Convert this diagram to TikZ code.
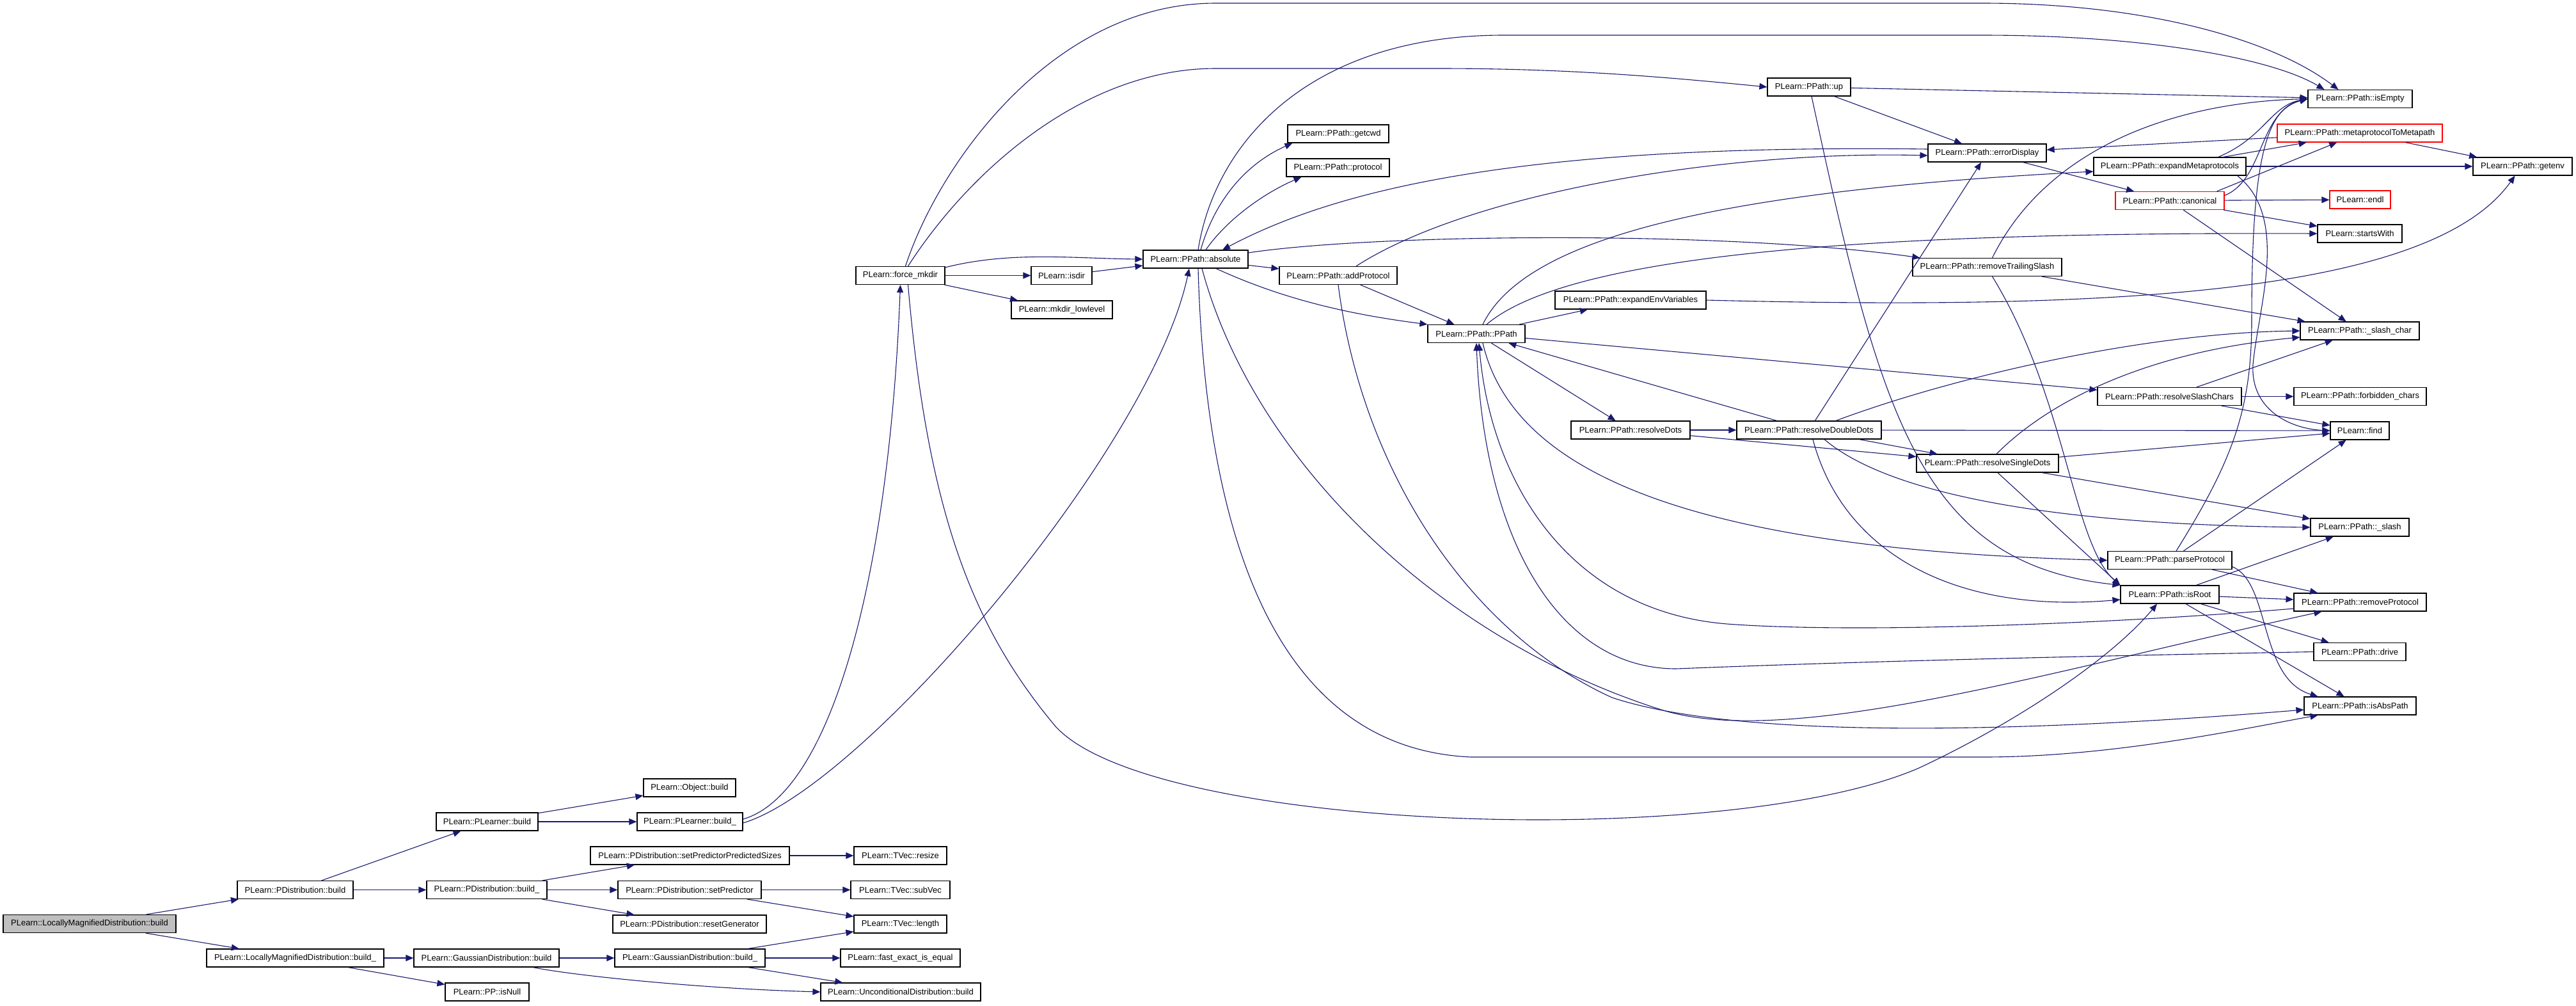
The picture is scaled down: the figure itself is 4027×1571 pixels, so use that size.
\documentclass[tikz,border=0pt]{standalone}
\usepackage{fontspec}
\setmainfont{Liberation Sans}
\usetikzlibrary{arrows.meta}
\definecolor{callblue}{RGB}{25,25,112}
\definecolor{rootgray}{RGB}{191,191,191}
\tikzset{
  fn/.style={draw=black, line width=0.6pt, fill=white, minimum height=14pt, inner sep=0pt,
    font=\fontsize{6.5}{7.8}\selectfont},
  fnred/.style={fn, draw=red},
  call/.style={draw=callblue, line width=0.55pt, -{Triangle[length=6pt,width=5pt]}},
}
\begin{document}
\begin{tikzpicture}[x=0.5pt,y=-0.5pt]
\useasboundingbox (0,0) rectangle (4027,1571);
% build part
\node[fn, fill=rootgray, minimum width=135pt] (lmdbuild) at (140,1443.5) {PLearn::LocallyMagnifiedDistribution::build};
\node[fn, minimum width=90.5pt] (pdbuild) at (461.5,1390.5) {PLearn::PDistribution::build};
\node[fn, minimum width=138.5pt] (lmdbuildu) at (461.5,1497) {PLearn::LocallyMagnifiedDistribution::build\_};
\node[fn, minimum width=79.5pt] (plbuild) at (761.5,1284) {PLearn::PLearner::build};
\node[fn, minimum width=94pt] (pdbuildu) at (761,1390.5) {PLearn::PDistribution::build\_};
\node[fn, minimum width=113.5pt] (gdbuild) at (760.5,1497) {PLearn::GaussianDistribution::build};
\node[fn, minimum width=65.5pt] (isnull) at (761.5,1550) {PLearn::PP::isNull};
\node[fn, minimum width=72pt] (objbuild) at (1078,1231) {PLearn::Object::build};
\node[fn, minimum width=82.5pt] (plbuildu) at (1078.5,1284) {PLearn::PLearner::build\_};
\node[fn, minimum width=155.5pt] (setpps) at (1078.5,1337) {PLearn::PDistribution::setPredictorPredictedSizes};
\node[fn, minimum width=112pt] (setpred) at (1078,1390.5) {PLearn::PDistribution::setPredictor};
\node[fn, minimum width=120pt] (resetgen) at (1078,1444) {PLearn::PDistribution::resetGenerator};
\node[fn, minimum width=117.5pt] (gdbuildu) at (1078.5,1497) {PLearn::GaussianDistribution::build\_};
\node[fn, minimum width=72.5pt] (resize) at (1407.5,1337) {PLearn::TVec::resize};
\node[fn, minimum width=77.5pt] (subvec) at (1407.5,1390.5) {PLearn::TVec::subVec};
\node[fn, minimum width=72.5pt] (length) at (1407.5,1444) {PLearn::TVec::length};
\node[fn, minimum width=93.5pt] (fasteq) at (1407.5,1497) {PLearn::fast\_exact\_is\_equal};
\node[fn, minimum width=125pt] (uncbuild) at (1408,1550) {PLearn::UnconditionalDistribution::build};
% path part
\node[fn, minimum width=69.5pt] (fmkdir) at (1407.5,430.5) {PLearn::force\_mkdir};
\node[fn, minimum width=47.5pt] (isdir) at (1659.5,430.5) {PLearn::isdir};
\node[fn, minimum width=79pt] (mkdirlow) at (1660,484) {PLearn::mkdir\_lowlevel};
\node[fn, minimum width=82pt] (absolute) at (1869,405) {PLearn::PPath::absolute};
\node[fn, minimum width=79pt] (getcwd) at (2092,209) {PLearn::PPath::getcwd};
\node[fn, minimum width=80.5pt] (protocol) at (2091.5,262) {PLearn::PPath::protocol};
\node[fn, minimum width=92pt] (addproto) at (2092,430.5) {PLearn::PPath::addProtocol};
\node[fn, minimum width=76pt] (ppath) at (2308,521.5) {PLearn::PPath::PPath};
\node[fn, minimum width=65pt] (up) at (2828,136) {PLearn::PPath::up};
\node[fn, minimum width=92.5pt] (errdisp) at (3106.5,239) {PLearn::PPath::errorDisplay};
\node[fn, minimum width=81.5pt] (isempty) at (3689.5,154.5) {PLearn::PPath::isEmpty};
\node[fnred, minimum width=129pt] (metapath) at (3689,208) {PLearn::PPath::metaprotocolToMetapath};
\node[fn, minimum width=119pt] (expmeta) at (3392,260) {PLearn::PPath::expandMetaprotocols};
\node[fn, minimum width=77.5pt] (getenv) at (3943.5,260) {PLearn::PPath::getenv};
\node[fnred, minimum width=85pt] (canonical) at (3392,313.5) {PLearn::PPath::canonical};
\node[fnred, minimum width=47.5pt] (endl) at (3689.5,312) {PLearn::endl};
\node[fn, minimum width=66pt] (startswith) at (3689,365) {PLearn::startsWith};
\node[fn, minimum width=116.5pt] (rmslash) at (3106.5,417.5) {PLearn::PPath::removeTrailingSlash};
\node[fn, minimum width=118pt] (expenv) at (2549,469) {PLearn::PPath::expandEnvVariables};
\node[fn, minimum width=93pt] (slashchar) at (3689,517) {PLearn::PPath::\_slash\_char};
\node[fn, minimum width=112.5pt] (resslash) at (3391.5,619.5) {PLearn::PPath::resolveSlashChars};
\node[fn, minimum width=103.5pt] (forbidden) at (3689.5,619.5) {PLearn::PPath::forbidden\_chars};
\node[fn, minimum width=93pt] (resdots) at (2549,672) {PLearn::PPath::resolveDots};
\node[fn, minimum width=113pt] (resdd) at (2828,672) {PLearn::PPath::resolveDoubleDots};
\node[fn, minimum width=46pt] (find) at (3689,673) {PLearn::find};
\node[fn, minimum width=111pt] (ressd) at (3107,724) {PLearn::PPath::resolveSingleDots};
\node[fn, minimum width=77pt] (slash) at (3689,824) {PLearn::PPath::\_slash};
\node[fn, minimum width=97pt] (parseproto) at (3392,875.5) {PLearn::PPath::parseProtocol};
\node[fn, minimum width=77pt] (isroot) at (3392,929) {PLearn::PPath::isRoot};
\node[fn, minimum width=103.5pt] (rmproto) at (3689.5,941) {PLearn::PPath::removeProtocol};
\node[fn, minimum width=72pt] (drive) at (3689,1018.5) {PLearn::PPath::drive};
\node[fn, minimum width=87.5pt] (isabs) at (3689.5,1103) {PLearn::PPath::isAbsPath};
% calls, build part
\draw[call] (lmdbuild) -- (pdbuild);
\draw[call] (lmdbuild) -- (lmdbuildu);
\draw[call] (pdbuild) -- (plbuild);
\draw[call] (pdbuild) -- (pdbuildu);
\draw[call] (plbuild) -- (objbuild);
\draw[call] (plbuild) -- (plbuildu);
\draw[call] (pdbuildu) -- (setpps);
\draw[call] (pdbuildu) -- (setpred);
\draw[call] (pdbuildu) -- (resetgen);
\draw[call] (setpps) -- (resize);
\draw[call] (setpred) -- (subvec);
\draw[call] (setpred) -- (length);
\draw[call] (lmdbuildu) -- (gdbuild);
\draw[call] (lmdbuildu) -- (isnull);
\draw[call] (gdbuild) -- (gdbuildu);
\draw[call] (gdbuild) .. controls (900,1525) and (1100,1545) .. (uncbuild.west);
\draw[call] (gdbuildu) -- (length);
\draw[call] (gdbuildu) -- (fasteq);
\draw[call] (gdbuildu) -- (uncbuild);
\draw[call] ([yshift=2pt]plbuildu.east) .. controls (1300,1240) and (1390,900) .. (fmkdir.south);
\draw[call] ([yshift=-1pt]plbuildu.east) .. controls (1350,1230) and (1800,700) .. ([xshift=-5pt]absolute.south);
% calls, path part
\draw[call] ([yshift=-1pt]fmkdir.north east) .. controls (1580,392) and (1680,404) .. (absolute.west);
\draw[call] (fmkdir) -- (isdir);
\draw[call] (fmkdir) -- (mkdirlow);
\draw[call] (isdir) -- (absolute);
\draw[call] ([xshift=4pt]fmkdir.north) .. controls (1470,250) and (1650,5) .. (1900,5) -- (3100,5) .. controls (3350,5) and (3550,60) .. ([xshift=-17pt]isempty.north);
\draw[call] ([xshift=6pt]fmkdir.north) .. controls (1520,260) and (1700,107) .. (1900,107) -- (2250,107) .. controls (2450,107) and (2600,120) .. (up.west);
\draw[call] ([xshift=6pt]fmkdir.south) .. controls (1450,800) and (1520,980) .. (1650,1135) .. controls (1800,1300) and (2700,1330) .. (3000,1200) .. controls (3150,1130) and (3300,1030) .. ([xshift=-10pt]isroot.south);
\draw[call] ([xshift=2pt]absolute.north) .. controls (1900,220) and (2050,55) .. (2350,55) -- (3100,55) .. controls (3350,55) and (3550,90) .. ([xshift=-28pt]isempty.north);
\draw[call] ([xshift=4pt]absolute.north) .. controls (1900,310) and (1950,255) .. ([xshift=4pt]getcwd.south west);
\draw[call] ([xshift=8pt]absolute.north) .. controls (1920,340) and (1980,300) .. ([xshift=12pt]protocol.south west);
\draw[call] (absolute) -- (addproto);
\draw[call] ([xshift=16pt]absolute.south) .. controls (2000,465) and (2100,490) .. (ppath.north west);
\draw[call] ([yshift=5pt]absolute.east) .. controls (2150,365) and (2700,360) .. ([xshift=6pt]rmslash.north west);
\draw[call] ([xshift=2pt]absolute.south) .. controls (1885,850) and (2000,1170) .. (2300,1183) -- (3100,1183) .. controls (3300,1183) and (3500,1140) .. ([xshift=-33pt]isabs.south);
\draw[call] ([xshift=5pt]absolute.south) .. controls (1960,720) and (2250,1000) .. (2600,1110) .. controls (2800,1170) and (3200,1050) .. ([xshift=-30pt]rmproto.south);
\draw[call] ([yshift=3pt]errdisp.west) .. controls (2400,225) and (2100,290) .. ([xshift=21pt]absolute.north);
\draw[call] ([xshift=14pt]addproto.north) .. controls (2300,300) and (2700,235) .. ([yshift=-2pt]errdisp.west);
\draw[call] (addproto) -- (ppath);
\draw[call] (addproto.south) .. controls (2130,740) and (2300,990) .. (2520,1090) .. controls (2700,1150) and (3100,1150) .. ([yshift=-3pt]isabs.west);
\draw[call] (ppath) -- (expenv);
\draw[call] ([xshift=5pt]ppath.north) .. controls (2380,380) and (2650,300) .. ([yshift=-4pt]expmeta.west);
\draw[call] ([xshift=8pt]ppath.north) .. controls (2450,400) and (2900,362) .. (startswith.west);
\draw[call] (ppath) -- (resslash);
\draw[call] (ppath) -- (resdots);
\draw[call] ([xshift=5pt]ppath.south) .. controls (2370,760) and (2700,860) .. (parseproto.west);
\draw[call] (up) -- (isempty);
\draw[call] (up) -- (errdisp);
\draw[call] ([xshift=2pt]up.south) .. controls (2940,650) and (3000,880) .. (isroot.north west);
\draw[call] (errdisp) -- (canonical);
\draw[call] (metapath) -- (errdisp);
\draw[call] (metapath) -- (getenv);
\draw[call] ([xshift=-22pt]expmeta.north east) .. controls (3540,215) and (3550,165) .. (isempty.west);
\draw[call] (expmeta) -- (metapath);
\draw[call] (expmeta) -- (getenv);
\draw[call] ([xshift=-7pt]expmeta.south east) .. controls (3580,340) and (3530,480) .. (3522,570) .. controls (3518,640) and (3580,670) .. (find.west);
\draw[call] ([xshift=-6pt]canonical.north east) -- (metapath);
\draw[call] ([yshift=4pt]canonical.east) .. controls (3540,280) and (3530,175) .. (isempty.west);
\draw[call] (canonical) -- (endl);
\draw[call] (canonical) -- (startswith);
\draw[call] (canonical) -- (slashchar);
\draw[call] ([xshift=4pt]rmslash.north) .. controls (3200,230) and (3400,160) .. (isempty.west);
\draw[call] (rmslash) -- (slashchar);
\draw[call] ([xshift=4pt]rmslash.south) .. controls (3230,620) and (3240,850) .. (isroot.north west);
\draw[call] (expenv.east) .. controls (3300,485) and (3800,460) .. ([xshift=-6pt]getenv.south);
\draw[call] (resslash) -- (forbidden);
\draw[call] (resslash) -- (find);
\draw[call] (resslash) -- (slashchar);
\draw[call] (resdots) -- (resdd);
\draw[call] (resdots) -- (ressd);
\draw[call] (resdd) -- (ppath);
\draw[call] (resdd) -- (errdisp);
\draw[call] ([xshift=21pt]resdd.north) .. controls (3050,590) and (3350,520) .. (slashchar.west);
\draw[call] (resdd) -- (find);
\draw[call] (resdd) -- (ressd);
\draw[call] ([xshift=3pt]resdd.south) .. controls (2880,860) and (3050,960) .. ([yshift=-4pt]isroot.west);
\draw[call] ([xshift=12pt]resdd.south) .. controls (2950,770) and (3200,820) .. (slash.west);
\draw[call] ([xshift=7pt]ressd.north) .. controls (3200,630) and (3350,550) .. ([yshift=-5pt]slashchar.west);
\draw[call] (ressd) -- (find);
\draw[call] (ressd) -- (slash);
\draw[call] (ressd) -- (isroot.north west);
\draw[call] ([xshift=5pt]parseproto.north) .. controls (3490,720) and (3520,640) .. (3520,500) .. controls (3520,260) and (3540,170) .. (isempty.west);
\draw[call] (parseproto) -- (find);
\draw[call] (parseproto) -- (rmproto);
\draw[call] ([yshift=-5pt]parseproto.east) .. controls (3550,910) and (3530,1060) .. ([xshift=-33pt]isabs.north);
\draw[call] (isroot) -- (slash);
\draw[call] (isroot) -- (rmproto);
\draw[call] (isroot) -- (drive);
\draw[call] (isroot) -- (isabs);
\draw[call] ([yshift=-5pt]rmproto.west) .. controls (3300,975) and (2900,990) .. (2700,975) .. controls (2450,955) and (2330,750) .. ([xshift=2pt]ppath.south);
\draw[call] (drive.west) .. controls (3000,1030) and (2750,1040) .. (2620,1045) .. controls (2440,1045) and (2320,850) .. (ppath.south);
\end{tikzpicture}
\end{document}
